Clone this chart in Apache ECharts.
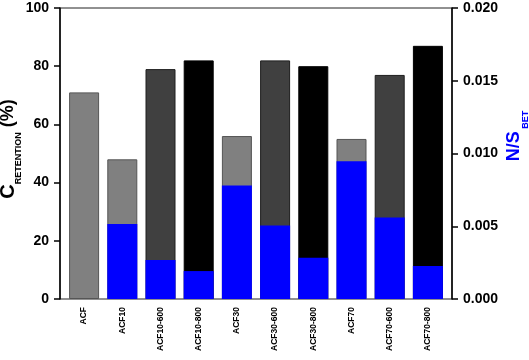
<!DOCTYPE html>
<html>
<head>
<meta charset="utf-8">
<script src="https://cdn.jsdelivr.net/npm/echarts@6/dist/echarts.min.js"></script>
<style>
  html, body { margin: 0; padding: 0; background: #fff; }
  #chart { width: 529px; height: 360px; }
</style>
</head>
<body>
<div id="chart"></div>
<script>
// data
const categories = ["ACF", "ACF10", "ACF10-600", "ACF10-800", "ACF30", "ACF30-600", "ACF30-800", "ACF70", "ACF70-600", "ACF70-800"];
const cRetention = [71, 48, 79, 82, 56, 82, 80, 55, 77, 87];
const nsBet = [null, 0.00516, 0.00268, 0.00192, 0.0078, 0.00506, 0.00284, 0.00946, 0.0056, 0.00227];
const leftAxisMax = 100;
const leftAxisStep = 20;
const rightAxisMax = 0.02;
const rightAxisStep = 0.005;

const FONT = "Liberation Sans, Arial, sans-serif";

// fill depends on treatment temperature in the name
function barFill(name) {
  if (name.endsWith("-800")) return { color: "#000000", borderColor: "#000000" };
  if (name.endsWith("-600")) return { color: "#404040", borderColor: "#1e1e1e" };
  return { color: "#808080", borderColor: "#555555" };
}

let myChart = echarts.init(document.getElementById("chart"));

const option = {
  animation: false,
  backgroundColor: "#fff",
  grid: [
    // frame
    { left: 60, right: 77, top: 8, bottom: 61, show: true, borderColor: "#222", borderWidth: 1, backgroundColor: "transparent", outerBoundsMode: "none", containLabel: false },
    // bars
    { left: 65, right: 82, top: 8, bottom: 61, outerBoundsMode: "none", containLabel: false }
  ],
  xAxis: [
    { gridIndex: 0, type: "value", show: false },
    {
      gridIndex: 1,
      type: "category",
      data: categories,
      axisLine: { show: false },
      axisTick: { show: false },
      axisLabel: {
        rotate: 90,
        margin: 8,
        color: "#000",
        fontFamily: FONT,
        fontWeight: "bold",
        fontSize: 8.5,
        interval: 0
      }
    }
  ],
  yAxis: [
    { gridIndex: 0, type: "value", show: false },
    {
      gridIndex: 1,
      type: "value",
      position: "left",
      offset: 5,
      min: 0,
      max: leftAxisMax,
      interval: leftAxisStep,
      splitLine: { show: false },
      axisLine: { show: true, lineStyle: { color: "#000", width: 1.5 } },
      axisTick: { show: true, length: 6, lineStyle: { color: "#000", width: 1.5 } },
      axisLabel: { color: "#000", fontFamily: FONT, fontWeight: "bold", fontSize: 14, margin: 11 },
      name: "{c|C}{s|RETENTION}{p| (%)}",
      nameLocation: "middle",
      nameRotate: 90,
      nameGap: 37,
      nameMoveOverlap: false,
      nameTextStyle: {
        padding: [0, 0, 0, 9],
        rich: {
          c: { fontFamily: FONT, fontWeight: "bold", fontSize: 20, lineHeight: 30, color: "#000" },
          s: { fontFamily: FONT, fontWeight: "bold", fontSize: 9, lineHeight: 9, verticalAlign: "bottom", color: "#000" },
          p: { fontFamily: FONT, fontWeight: "bold", fontSize: 18, lineHeight: 30, color: "#000" }
        }
      }
    },
    {
      gridIndex: 1,
      type: "value",
      position: "right",
      offset: 5,
      min: 0,
      max: rightAxisMax,
      interval: rightAxisStep,
      splitLine: { show: false },
      axisLine: { show: true, lineStyle: { color: "#000", width: 1.5 } },
      axisTick: { show: true, length: 6, lineStyle: { color: "#000", width: 1.5 } },
      axisLabel: {
        color: "#000",
        fontFamily: FONT,
        fontWeight: "bold",
        fontSize: 14,
        margin: 11,
        formatter: function (v) { return v.toFixed(3); }
      },
      name: "{n|N/S}{b| BET}",
      nameLocation: "middle",
      nameRotate: 90,
      nameGap: 46,
      nameMoveOverlap: false,
      nameTextStyle: {
        padding: [0, 0, 0, 35],
        rich: {
          n: { fontFamily: FONT, fontWeight: "bold", fontSize: 18, lineHeight: 32, color: "#0000ff" },
          b: { fontFamily: FONT, fontWeight: "bold", fontSize: 9, lineHeight: 9, verticalAlign: "bottom", color: "#0000ff" }
        }
      }
    }
  ],
  series: [
    {
      name: "C retention",
      type: "bar",
      xAxisIndex: 1,
      yAxisIndex: 1,
      barWidth: 30,
      barGap: "-100%",
      data: cRetention.map(function (v, i) {
        const f = barFill(categories[i]);
        return { value: v, itemStyle: { color: f.color, borderColor: f.borderColor, borderWidth: 1 } };
      })
    },
    {
      name: "N/S BET",
      type: "bar",
      xAxisIndex: 1,
      yAxisIndex: 2,
      barWidth: 30,
      barGap: "-100%",
      itemStyle: { color: "#0000ff" },
      data: nsBet
    }
  ]
};

myChart.setOption(option);
</script>
</body>
</html>
